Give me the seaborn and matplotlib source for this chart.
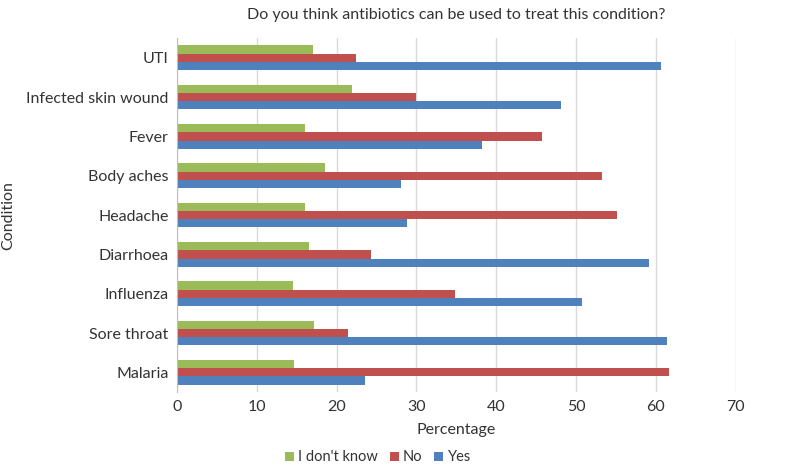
import pandas as pd
import matplotlib.pyplot as plt
import seaborn as sns

# values (percent)
conditions = ["UTI", "Infected skin wound", "Fever", "Body aches", "Headache",
              "Diarrhoea", "Influenza", "Sore throat", "Malaria"]
dont_know = [17.1, 21.9, 16.0, 18.6, 16.1, 16.5, 14.5, 17.2, 14.7]
no = [22.4, 30.0, 45.7, 53.3, 55.1, 24.3, 34.8, 21.4, 61.7]
yes = [60.6, 48.1, 38.2, 28.1, 28.8, 59.2, 50.8, 61.4, 23.6]

answers = ["I don't know", "No", "Yes"]
colors = ["#9BBB59", "#C0504D", "#4F81BD"]

df = pd.DataFrame({"Condition": conditions, "I don't know": dont_know, "No": no, "Yes": yes})
long = df.melt(id_vars="Condition", var_name="Answer", value_name="Percentage")

sns.set_style("white")
plt.rcParams["font.family"] = ["Lato", "DejaVu Sans"]

fig = plt.figure(figsize=(7.86, 4.65), dpi=100)
ax = fig.add_axes([0.225, 0.157, 0.711, 0.761])

sns.barplot(data=long, y="Condition", x="Percentage", hue="Answer",
            order=conditions, hue_order=answers, palette=colors,
            orient="h", width=0.63, saturation=1, linewidth=0, ax=ax, legend=True)

ax.set_xlim(0, 70)
ax.set_xticks(range(0, 71, 10))
ax.grid(axis="x", color="#D9D9D9", linewidth=1)
ax.set_axisbelow(True)
for s in ["top", "right", "bottom"]:
    ax.spines[s].set_visible(False)
ax.spines["left"].set_color("#BFBFBF")
ax.tick_params(axis="both", length=0, labelsize=11.5, colors="#333333", pad=6)
ax.set_xlabel("Percentage", fontsize=11.5, color="#333333", labelpad=6)
ax.set_ylabel("Condition", fontsize=11.5, color="#333333", labelpad=8)
ax.set_title("Do you think antibiotics can be used to treat this condition?",
             fontsize=11.5, color="#333333", pad=14)

ax.legend(loc="center", bbox_to_anchor=(0.36, -0.185), ncol=3, frameon=False,
          fontsize=10.5, handlelength=0.6, handleheight=0.6, handletextpad=0.3,
          columnspacing=0.8, borderpad=0, labelcolor="#333333")

fig.savefig("out.png", dpi=100)
